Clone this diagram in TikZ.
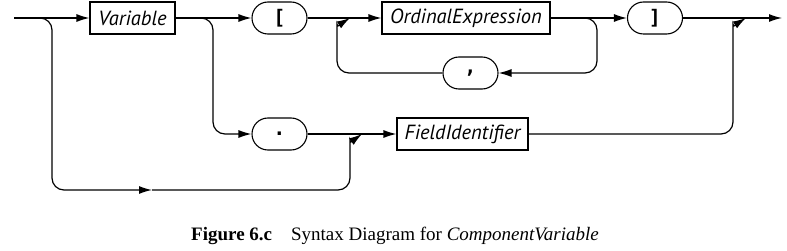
\documentclass[tikz,border=0pt]{standalone}
\usepackage{fontspec}
\setmainfont{Liberation Serif}
\newfontfamily\boxfont{PT Sans}
\newfontfamily\termfont{DejaVu Sans Mono}
\usetikzlibrary{arrows.meta}

\begin{document}
\begin{tikzpicture}[
  x=1pt, y=-1pt,
  every node/.style={font=\boxfont\itshape\fontsize{20.5}{24}\selectfont},
  nonterm/.style={
    draw, line width=1.1pt, minimum height=32pt, inner sep=0pt,
  },
  term/.style={
    draw, line width=1.1pt, rounded corners=16pt,
    minimum width=55pt, minimum height=32pt, inner sep=0pt,
    font=\termfont\bfseries\fontsize{20}{24}\selectfont,
  },
  flow/.style={-{Latex[length=13pt,width=8pt]}, line width=1.2pt},
  curved/.style={rounded corners=12pt},
]
  \useasboundingbox (0,0) rectangle (787,251);

  % Main row
  \coordinate (in)  at (14,18);
  \coordinate (out) at (782,18);
  \node[nonterm, minimum width=85pt]  (var) at (132.5,18) {Variable};
  \node[term]                         (lbr) at (279.5,18) {[};
  \node[nonterm, minimum width=168pt] (ord) at (466,18)   {OrdinalExpression};
  \node[term]                         (rbr) at (655,18)   {]};

  % Loop row and field row
  \node[term]                         (comma) at (470.5,73)  {,};
  \node[term]                         (dot)   at (279.5,134) {.};
  \node[nonterm, minimum width=131pt] (fid)   at (462.5,134) {FieldIdentifier};

  % Merge points
  \coordinate (botmid) at (152,190);
  \coordinate (jloop)  at (350,18);
  \coordinate (jfield) at (362,134);
  \coordinate (jout)   at (746,18);

  \draw[flow] (in)  -- (var);
  \draw[flow] (var) -- (lbr);
  \draw[flow] (lbr) -- (ord);
  \draw[flow] (ord) -- (rbr);
  \draw[flow] (rbr) -- (out);
  \draw[flow] (dot) -- (fid);

  % Bypass of Variable
  \draw[flow, curved] (in) -| (52,190) -- (botmid);
  \draw[flow, curved] (botmid) -- (350,190) -- (350,152)
    .. controls (350,145) and (355,139) .. (jfield);

  % Field selection
  \draw[flow, curved] (var.east) -| (213,134) -- (dot);
  \draw[flow, curved] (fid) -- (733,134) -- (733,36)
    .. controls (733,29) and (738,23) .. (jout);

  % Index list loop
  \draw[flow, curved] (ord.east) -| (597,73) -- (comma);
  \draw[flow, curved] (comma) -- (337,73) -- (337,36)
    .. controls (337,29) and (342,23) .. (jloop);

  % Caption
  \node[font=\normalfont\rmfamily\fontsize{19}{22}\selectfont] (cap) at (395,236)
    {\textbf{Figure 6.c}\quad Syntax Diagram for \textit{ComponentVariable}};
\end{tikzpicture}
\end{document}
